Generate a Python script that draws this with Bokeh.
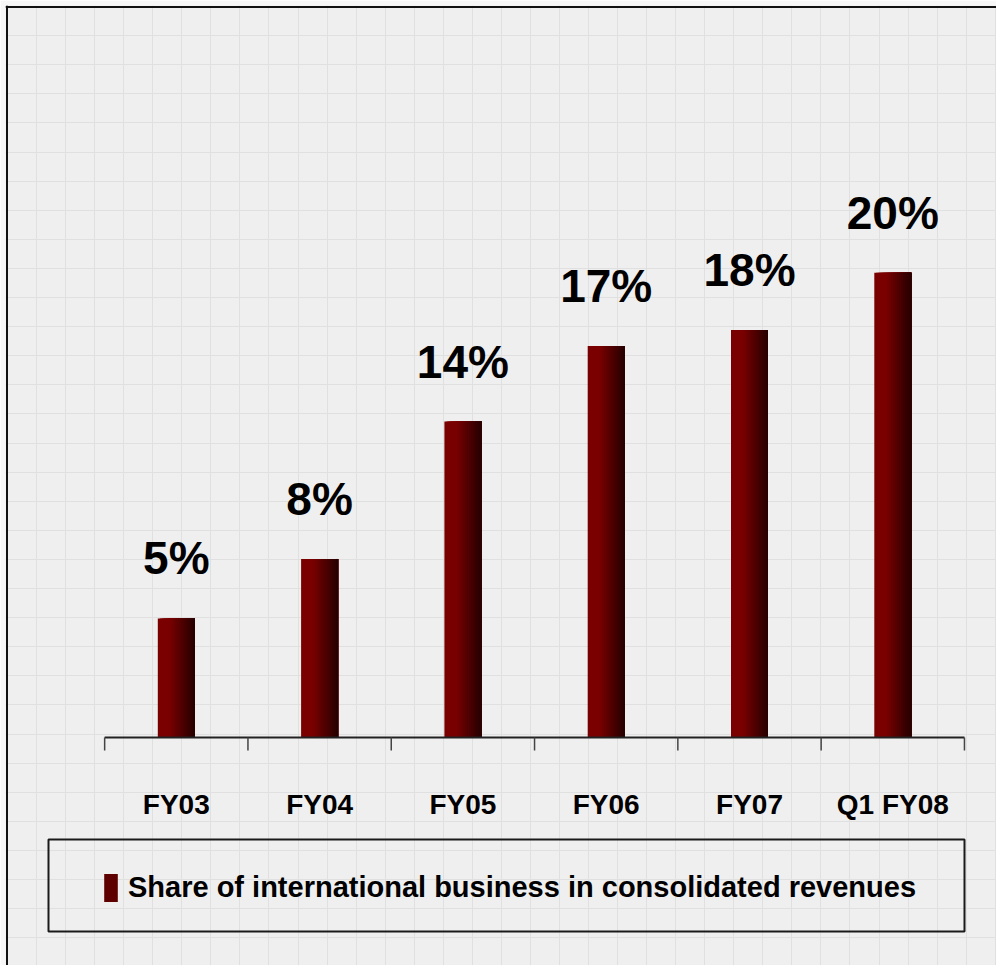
import numpy as np
from bokeh.plotting import figure
from bokeh.models import (Range1d, ColumnDataSource, Grid, FixedTicker, Legend,
                          LegendItem, BoxAnnotation, Span)
from bokeh.core.properties import value
from bokeh.embed import file_html
from bokeh.resources import INLINE

# ---------------- data ----------------
categories = ["FY03", "FY04", "FY05", "FY06", "FY07", "Q1 FY08"]
share_pct = [5.2, 7.8, 13.8, 17.1, 17.8, 20.3]
share_labels = ["5%", "8%", "14%", "17%", "18%", "20%"]
series_name = "Share of international business in consolidated revenues"

# ---------------- geometry (page pixels) ----------------
W, H = 996, 965
FRAME_L, FRAME_T, FRAME_R, FRAME_B = 5, 5, 996, 965
CAT0, CAT_STEP = 175.8, 143.3
ZERO_Y, PX_PER_PCT = 737.0, 22.89

def X(px):
    return (px - CAT0) / CAT_STEP

def Y(py):
    return (ZERO_Y - py) / PX_PER_PCT

def dx(px):
    return px / CAT_STEP

def dy(px):
    return px / PX_PER_PCT

FONT = "Liberation Sans"

p = figure(width=W, height=H, title=None,
           x_range=Range1d(X(FRAME_L), X(FRAME_R)),
           y_range=Range1d(Y(FRAME_B), Y(FRAME_T)),
           x_axis_type=None, y_axis_type=None,
           toolbar_location=None, output_backend="svg",
           min_border=0, min_border_left=FRAME_L, min_border_top=FRAME_T,
           border_fill_color="#f7f7f7", background_fill_color="#efefef",
           outline_line_color=None)

# faint background grid
gx = [X(v) for v in np.arange(7 + 29.05, 996, 29.05)]
gy = [Y(v) for v in np.arange(6 + 29.1, 965, 29.1)]
p.add_layout(Grid(dimension=0, ticker=FixedTicker(ticks=gx),
                  grid_line_color="#e0e0e0", grid_line_width=1))
p.add_layout(Grid(dimension=1, ticker=FixedTicker(ticks=gy),
                  grid_line_color="#e0e0e0", grid_line_width=1))

# outer frame lines (left and top)
p.add_layout(Span(location=X(6.5), dimension="height", line_color="#111111", line_width=2))
p.add_layout(Span(location=Y(6.5), dimension="width", line_color="#111111", line_width=2))

idx = np.arange(len(categories), dtype=float)
src = ColumnDataSource(dict(x=idx, top=share_pct, lab=share_labels, cat=categories))

# bars with horizontal gradient (nested strips, each running to the bar's right edge)
BW = dx(37)
N = 18
strip_renderers = []
for k in range(N):
    t = k / (N - 1)
    s = max(0.0, (t - 0.3) / 0.7)
    r = int(round(122 + (40 - 122) * s))
    col = "#%02x0000" % r
    left = -BW / 2 + k * BW / N
    right = BW / 2
    sk = ColumnDataSource(dict(x=idx + (left + right) / 2, top=share_pct))
    rr = p.vbar(x="x", top="top", bottom=0, width=right - left, source=sk,
                fill_color=col, line_color=None)
    strip_renderers.append(rr)

# axis line and ticks at category boundaries
bounds = np.arange(len(categories) + 1) - 0.5
p.segment(x0=[bounds[0]], x1=[bounds[-1]], y0=[0], y1=[0],
          line_color="#222222", line_width=2)
p.segment(x0=bounds, x1=bounds, y0=np.zeros_like(bounds), y1=np.full_like(bounds, -dy(13)),
          line_color="#444444", line_width=1.5)

# value labels
p.text(x="x", y="top", text="lab", source=src, text_align="center",
       text_baseline="alphabetic", y_offset=-60,
       text_font=value(FONT), text_font_style="bold", text_font_size="46px",
       text_color="black")

# category labels
p.text(x="x", y=0, text="cat", source=src, text_align="center",
       text_baseline="alphabetic", y_offset=67,
       text_font=value(FONT), text_font_style="bold", text_font_size="28px",
       text_color="black")

# legend frame
p.add_layout(BoxAnnotation(left=X(48), right=X(964), top=Y(839), bottom=Y(931),
                           fill_color=None, line_color="#1a1a1a", line_alpha=1.0,
                           line_width=2))

legend = Legend(items=[LegendItem(label=series_name, renderers=[strip_renderers[N // 2]])],
                location=(102 - FRAME_L, FRAME_B - 905), orientation="vertical",
                glyph_width=17, glyph_height=35, label_standoff=9,
                padding=0, margin=0, spacing=0,
                border_line_color=None, background_fill_alpha=0,
                label_text_font=FONT, label_text_font_style="bold",
                label_text_font_size="29px", label_height=35,
                label_text_baseline="middle", label_text_color="black")
p.add_layout(legend)

open("out.html", "w").write(file_html(p, INLINE))
